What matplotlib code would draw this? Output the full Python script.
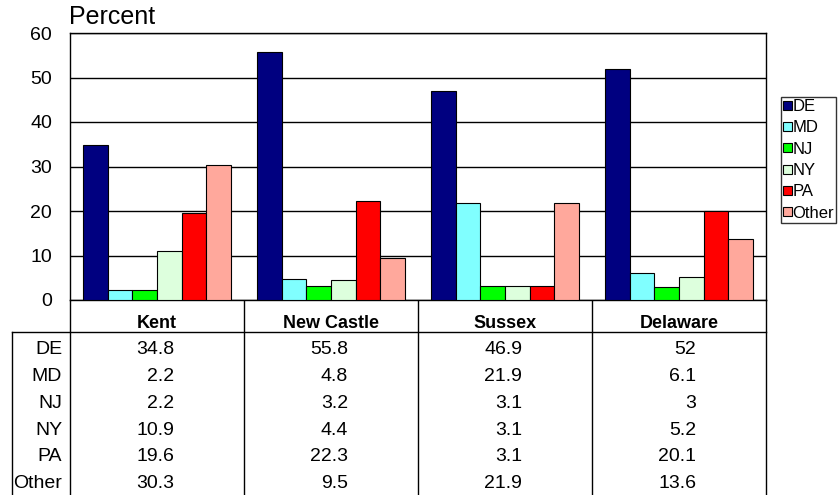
import numpy as np
import matplotlib
matplotlib.use("Agg")
import matplotlib.pyplot as plt
from matplotlib.patches import Patch

plt.rcParams["font.family"] = ["Liberation Sans", "DejaVu Sans"]

# data
REGIONS = ["Kent", "New Castle", "Sussex", "Delaware"]
ORIGINS = ["DE", "MD", "NJ", "NY", "PA", "Other"]
DE    = [34.8, 55.8, 46.9, 52]
MD    = [2.2, 4.8, 21.9, 6.1]
NJ    = [2.2, 3.2, 3.1, 3]
NY    = [10.9, 4.4, 3.1, 5.2]
PA    = [19.6, 22.3, 3.1, 20.1]
OTHER = [30.3, 9.5, 21.9, 13.6]
YTICKS = [0, 10, 20, 30, 40, 50, 60]

COLORS = ["#000080", "#80FFFF", "#00FF00", "#DDFFDD", "#FF0000", "#FFA89C"]

W, H = 838, 495
fig = plt.figure(figsize=(W / 100, H / 100), dpi=100)

# pixel layout
x0, x1 = 70, 766
y_top, y_zero = 33, 300
ax = fig.add_axes([x0 / W, 1 - y_zero / H, (x1 - x0) / W, (y_zero - y_top) / H])

series = [DE, MD, NJ, NY, PA, OTHER]
x = np.arange(len(REGIONS))
bw = 0.141
for i, (vals, col) in enumerate(zip(series, COLORS)):
    ax.bar(x + (i - 2.5) * bw, vals, width=bw, color=col,
           edgecolor="black", linewidth=0.8, zorder=3, label=ORIGINS[i])

ax.set_xlim(-0.5, len(REGIONS) - 0.5)
ax.set_ylim(0, 60)
ax.set_yticks(YTICKS)
ax.set_xticks([])
ax.tick_params(axis="y", length=0, pad=13, labelsize=14)
ax.grid(axis="y", color="black", linewidth=1, zorder=0)
for s in ax.spines.values():
    s.set_color("black")
    s.set_linewidth(1)

fig.text(69 / W, 1 - 17 / H, "Percent", fontsize=18, ha="left", va="center")

# legend
handles = [Patch(facecolor=c, edgecolor="black", linewidth=0.8) for c in COLORS]
fig.legend(handles, ORIGINS, loc="upper left",
           bbox_to_anchor=(781 / W, 1 - 97 / H), fontsize=12,
           frameon=True, fancybox=False, edgecolor="black",
           handlelength=0.55, handleheight=0.45, handletextpad=0.0,
           labelspacing=0.38, borderpad=0.12, borderaxespad=0)

# data table drawn in pixel coordinates
tab = fig.add_axes([0, 0, 1, 1], zorder=-1)
tab.set_xlim(0, W)
tab.set_ylim(H, 0)
tab.axis("off")
col_w = (x1 - x0) / len(REGIONS)
col_edges = [x0 + k * col_w for k in range(len(REGIONS) + 1)]
hdr_bottom = 332
row_h = 26.7
for xe in col_edges:
    tab.plot([xe, xe], [y_zero, H], color="black", lw=1)
tab.plot([12, x1], [hdr_bottom, hdr_bottom], color="black", lw=1)
tab.plot([12, 12], [hdr_bottom, H], color="black", lw=1)

for k, name in enumerate(REGIONS):
    cx = col_edges[k] + col_w / 2
    tab.text(cx, 323, name, ha="center", va="center", fontsize=13,
             fontweight="bold")
    for r, vals in enumerate(series):
        yc = 350 + r * row_h
        tab.text(cx + 17, yc, f"{vals[k]:g}", ha="right", va="center",
                 fontsize=14)
for r, lab in enumerate(ORIGINS):
    tab.text(62, 350 + r * row_h, lab, ha="right", va="center", fontsize=14)

fig.savefig("out.png", dpi=100)
